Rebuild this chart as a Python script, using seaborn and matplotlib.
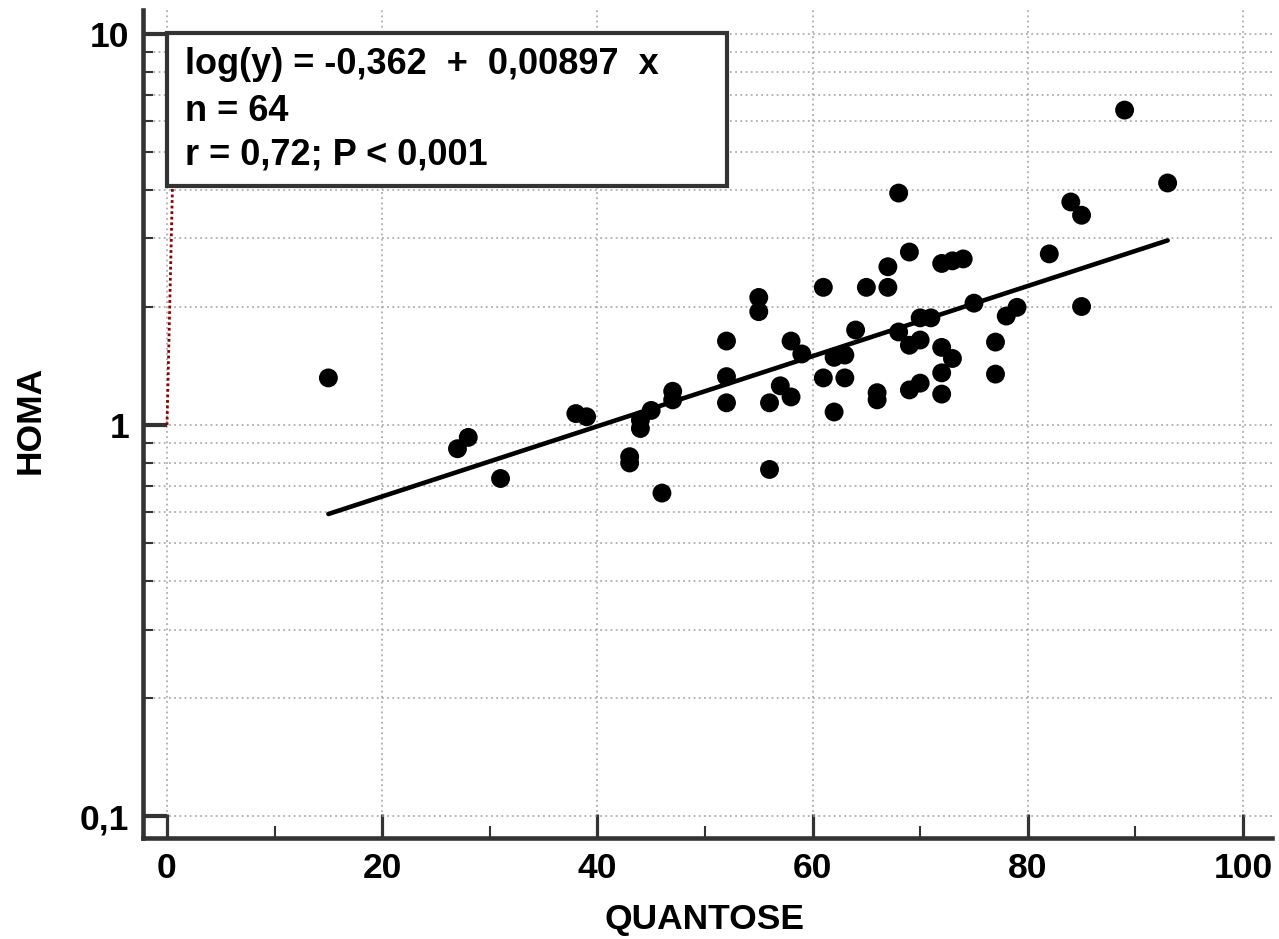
import numpy as np
import pandas as pd
import matplotlib
matplotlib.use("Agg")
import matplotlib.pyplot as plt
from matplotlib.patches import Rectangle
from matplotlib.ticker import FixedLocator, FixedFormatter, NullFormatter
import seaborn as sns

# ---- data ----
quantose = [15, 27, 28, 31, 38, 39, 43, 43, 44, 44, 45, 46, 47, 47,
            52, 52, 52, 55, 55, 56, 56, 57, 58, 58, 59, 61, 61, 62, 62,
            63, 63, 64, 65, 66, 66, 67, 67, 68, 68, 69, 69, 69, 70, 70,
            70, 71, 72, 72, 72, 72, 73, 73, 74, 75, 77, 77, 78, 79, 82,
            84, 85, 85, 89, 93]
homa = [1.32, 0.87, 0.93, 0.73, 1.07, 1.05, 0.83, 0.80, 1.03, 0.98, 1.09, 0.67, 1.22, 1.16,
        1.64, 1.33, 1.14, 2.12, 1.95, 1.14, 0.77, 1.26, 1.18, 1.64, 1.52, 2.25, 1.32, 1.49, 1.08,
        1.51, 1.32, 1.75, 2.25, 1.21, 1.16, 2.25, 2.54, 3.92, 1.73, 2.77, 1.60, 1.23, 1.88, 1.65,
        1.28, 1.88, 2.59, 1.58, 1.36, 1.20, 2.63, 1.48, 2.66, 2.05, 1.63, 1.35, 1.90, 2.00, 2.74,
        3.72, 3.44, 2.01, 6.39, 4.16]

intercept = -0.362
slope = 0.00897

red_x = [0.0, 0.7]
red_y = [1.0, 6.9]

x_ticks = [0, 20, 40, 60, 80, 100]
x_tick_labels = ["0", "20", "40", "60", "80", "100"]
x_minor = [10, 30, 50, 70, 90]
y_ticks = [0.1, 1, 10]
y_tick_labels = ["0,1", "1", "10"]
y_minor = [0.2, 0.3, 0.4, 0.5, 0.6, 0.7, 0.8, 0.9, 2, 3, 4, 5, 6, 7, 8, 9]

box_lines = ["log(y) = -0,362  +  0,00897  x", "n = 64", "r = 0,72; P < 0,001"]

# ---- style ----
sns.set_theme(style="white")
plt.rcParams["font.family"] = ["Liberation Sans", "DejaVu Sans"]
plt.rcParams["font.weight"] = "bold"

DARK = "#333333"
FS = 25.5
FS_BOX = 26

fig = plt.figure(figsize=(12.79, 9.39), dpi=100)
ax = fig.add_axes([143 / 1279, 1 - 838 / 939, (1272 - 143) / 1279, (838 - 10) / 939])

df = pd.DataFrame({"QUANTOSE": quantose, "HOMA": homa})

ax.set_yscale("log")
ax.set_xlim(-2.23, 102.7)
ax.set_ylim(0.0879, 11.52)
ax.set_axisbelow(True)

ax.xaxis.set_major_locator(FixedLocator(x_ticks))
ax.xaxis.set_major_formatter(FixedFormatter(x_tick_labels))
ax.xaxis.set_minor_locator(FixedLocator(x_minor))
ax.xaxis.set_minor_formatter(NullFormatter())
ax.yaxis.set_major_locator(FixedLocator(y_ticks))
ax.yaxis.set_major_formatter(FixedFormatter(y_tick_labels))
ax.yaxis.set_minor_locator(FixedLocator(y_minor))
ax.yaxis.set_minor_formatter(NullFormatter())

ax.grid(True, axis="x", which="major", color="#a0a0a0", linestyle=(0, (1.2, 2.2)), linewidth=1.1)
ax.grid(True, axis="y", which="both", color="#a0a0a0", linestyle=(0, (1.2, 2.2)), linewidth=1.1)

# red dotted artefact line
ax.plot(red_x, red_y, color="#8b0000", linestyle=(0, (1, 1)), linewidth=2.0, zorder=2)

# regression line
xr = np.array([min(quantose), max(quantose)], dtype=float)
yr = 10 ** (intercept + slope * xr)
sns.lineplot(x=xr, y=yr, ax=ax, color="black", linewidth=3.3, zorder=3)

# points
sns.scatterplot(data=df, x="QUANTOSE", y="HOMA", ax=ax, color="black", s=185,
                edgecolor="none", linewidth=0, zorder=4)

# spines
for s in ["top", "right"]:
    ax.spines[s].set_visible(False)
for s in ["left", "bottom"]:
    ax.spines[s].set_color(DARK)
    ax.spines[s].set_linewidth(3.3)

ax.tick_params(axis="both", which="both", bottom=True, left=True, top=False, right=False)
ax.tick_params(axis="both", which="major", direction="in", length=17.3, color=DARK,
               labelsize=FS, labelcolor="black", pad=10)
ax.tick_params(axis="y", which="major", width=3.0)
ax.tick_params(axis="x", which="major", width=2.3)
ax.tick_params(axis="y", which="minor", direction="in", length=7.2, width=1.5, color=DARK)
ax.tick_params(axis="x", which="minor", direction="in", length=8.6, width=1.5, color=DARK)
for lab in ax.get_xticklabels() + ax.get_yticklabels():
    lab.set_fontweight("bold")

ax.set_xlabel("QUANTOSE", fontsize=FS, fontweight="bold", color="black")
ax.set_ylabel("HOMA", fontsize=FS, fontweight="bold", color="black")
ax.xaxis.label.set_va("center")
ax.yaxis.label.set_va("center")
ax.xaxis.set_label_coords((705 - 143) / 1129, (838 - 920) / 828)
ax.yaxis.set_label_coords((30 - 143) / 1129, (838 - 420) / 828)

# stats box
bx0, bx1 = (167 - 143) / 1129, (727 - 143) / 1129
by0, by1 = (838 - 186) / 828, (838 - 33) / 828
ax.add_patch(Rectangle((bx0, by0), bx1 - bx0, by1 - by0, transform=ax.transAxes,
                       facecolor="white", edgecolor=DARK, linewidth=3.0, zorder=6,
                       clip_on=False))
baselines = [74, 121, 164]
for txt, b in zip(box_lines, baselines):
    ax.text((185 - 143) / 1129, (838 - b) / 828, txt, transform=ax.transAxes,
            fontsize=FS_BOX, fontweight="bold", va="baseline", ha="left", zorder=7,
            color="black")

fig.savefig("out.png", dpi=100)
